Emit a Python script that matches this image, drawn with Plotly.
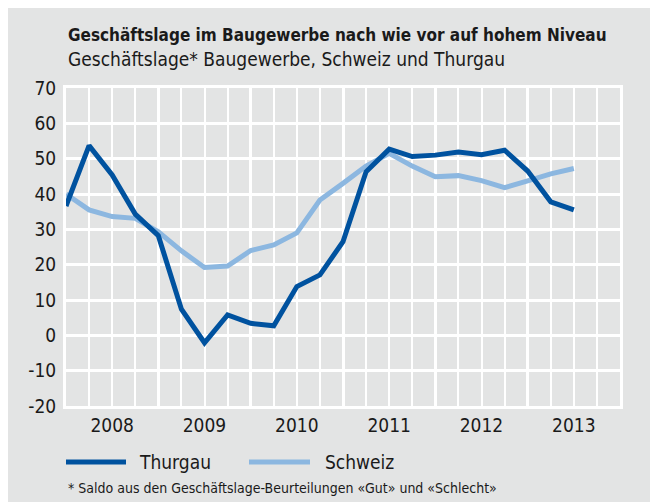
import plotly.graph_objects as go

# Quarter index 0 = start of 2008, one step per quarter
quarters = list(range(23))
thurgau = [36.6, 53.7, 45.4, 34.3, 28.2, 7.4, -2.1, 5.8, 3.4, 2.7, 13.8, 17.1,
           26.5, 46.3, 52.7, 50.6, 51.0, 51.9, 51.1, 52.4, 46.5, 37.8, 35.5]
schweiz = [40.0, 35.5, 33.6, 33.1, 29.3, 23.9, 19.2, 19.6, 24.0, 25.6, 29.0, 38.3,
           43.0, 47.9, 51.5, 47.9, 44.9, 45.2, 43.8, 41.8, 43.7, 45.7, 47.2]
years = ["2008", "2009", "2010", "2011", "2012", "2013"]
y_ticks = [-20, -10, 0, 10, 20, 30, 40, 50, 60, 70]
y_ticklabels = ["-20", "-10", "0", "10", "20", "30", "40", "50", "60", "70"]
series_names = ["Thurgau", "Schweiz"]
colors = ["#00529f", "#8cb7e0"]

title = "Geschäftslage im Baugewerbe nach wie vor auf hohem Niveau"
subtitle = "Geschäftslage* Baugewerbe, Schweiz und Thurgau"
footnote = "* Saldo aus den Geschäftslage-Beurteilungen «Gut» und «Schlecht»"

FONT = "DejaVu Sans Condensed, Liberation Sans Narrow, sans-serif"
BG = "#e3e4e4"
TXT = "#1a1a1a"

PW, PH = 554, 318  # plot area size in px

fig = go.Figure()
fig.add_trace(go.Scatter(x=quarters, y=schweiz, mode="lines", name=series_names[1],
                         line=dict(color=colors[1], width=5), showlegend=False))
fig.add_trace(go.Scatter(x=quarters, y=thurgau, mode="lines", name=series_names[0],
                         line=dict(color=colors[0], width=5), showlegend=False))
# invisible trace for year label axis
fig.add_trace(go.Scatter(x=[0, 24], y=[None, None], xaxis="x2", showlegend=False,
                         hoverinfo="skip"))

fig.update_layout(
    width=658, height=502,
    margin=dict(l=58, r=46, t=80, b=104),
    paper_bgcolor=BG, plot_bgcolor=BG,
    font=dict(family=FONT, color=TXT, size=19),
    xaxis=dict(range=[0, 24], tickvals=[0, 4, 8, 12, 16, 20, 24], showticklabels=False,
               showgrid=True, gridcolor="white", gridwidth=3,
               minor=dict(dtick=1, showgrid=True, gridcolor="white", gridwidth=1.5),
               showline=True, linecolor="white", linewidth=3, mirror=True,
               zeroline=False, ticks=""),
    xaxis2=dict(range=[0, 24], overlaying="x", side="bottom",
                tickvals=[2, 6, 10, 14, 18, 22], ticktext=years,
                showgrid=False, zeroline=False, showline=False, ticks="",
                tickfont=dict(size=19, family=FONT, color=TXT), ticklabelstandoff=6),
    yaxis=dict(range=[-20, 70], tickvals=y_ticks, ticktext=y_ticklabels,
               showgrid=True, gridcolor="white", gridwidth=2.5,
               showline=True, linecolor="white", linewidth=3, mirror=True,
               zeroline=False, ticks="", tickfont=dict(size=19, family=FONT, color=TXT),
               ticklabelstandoff=3),
    showlegend=False,
)

ann = []
ann.append(dict(text="<b>" + title + "</b>", x=0, y=1 + 53 / PH, xref="paper", yref="paper",
                xanchor="left", yanchor="middle", showarrow=False,
                font=dict(size=17, family=FONT, color=TXT)))
ann.append(dict(text=subtitle, x=0, y=1 + 29 / PH, xref="paper", yref="paper",
                xanchor="left", yanchor="middle", showarrow=False,
                font=dict(size=19, family=FONT, color=TXT)))
ann.append(dict(text=footnote, x=0, y=-82 / PH, xref="paper", yref="paper",
                xanchor="left", yanchor="middle", showarrow=False,
                font=dict(size=14, family=FONT, color=TXT)))

shapes = []
leg = [(0, 60, 71), (183, 244, 257)]
for (x0, x1, xt), nm, c in zip(leg, series_names, colors):
    shapes.append(dict(type="line", xref="paper", yref="paper",
                       x0=x0 / PW, x1=x1 / PW, y0=-56 / PH, y1=-56 / PH,
                       line=dict(color=c, width=5)))
    ann.append(dict(text=nm, x=xt / PW, y=-56 / PH, xref="paper", yref="paper",
                    xanchor="left", yanchor="middle", showarrow=False,
                    font=dict(size=19, family=FONT, color=TXT)))

fig.update_layout(annotations=ann, shapes=shapes)
fig.write_html("out.html")
